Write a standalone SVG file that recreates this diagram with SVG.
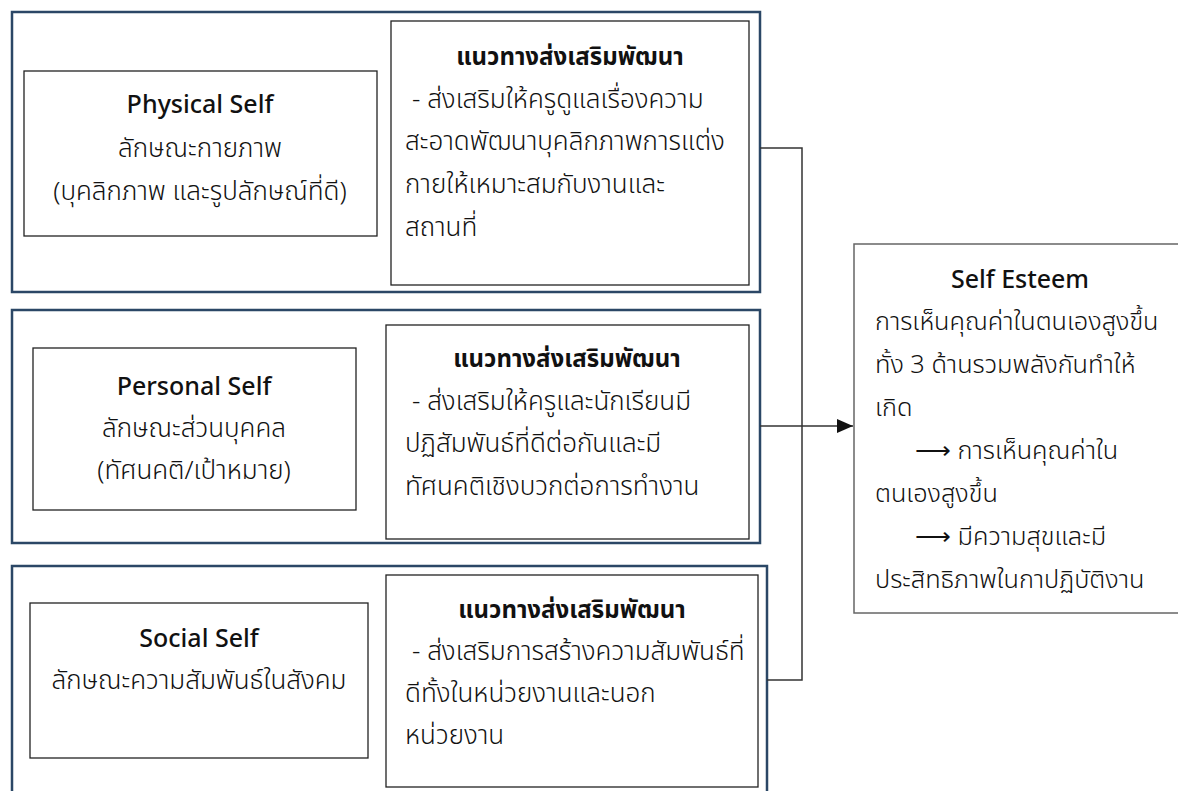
<svg xmlns="http://www.w3.org/2000/svg" width="1178" height="791" viewBox="0 0 1178 791">
<style>
.outer{fill:none;stroke:#2b4766;stroke-width:2.5}
.inner{fill:#fff;stroke:#222;stroke-width:1.3}
.se{fill:#fff;stroke:#666;stroke-width:1.5}
.conn{fill:none;stroke:#333;stroke-width:1.5}
text{font-family:'Leelawadee UI','Noto Sans Thai','Noto Sans','DejaVu Sans',sans-serif;font-size:26px;font-weight:300;fill:#111}
.c{text-anchor:middle}
.t{font-weight:500;font-size:25px}
.b{font-weight:bold;font-size:24px}
.s{font-size:25.3px}
</style>
<defs>
<marker id="ah" markerWidth="16" markerHeight="14" refX="16" refY="7" orient="auto" markerUnits="userSpaceOnUse">
<path d="M0,0 L16,7 L0,14 Z" fill="#111"/>
</marker>
</defs>
<rect width="1178" height="791" fill="#fff"/>
<g id="row1">
<rect class="outer" x="12" y="12" width="748" height="280"/>
<g id="physical">
<rect class="inner" x="24" y="71" width="353" height="165"/>
<text class="c t" x="200" y="113">Physical Self</text>
<text class="c" x="200" y="157">ลักษณะกายภาพ</text>
<text class="c" x="200" y="200">(บุคลิกภาพ และรูปลักษณ์ที่ดี)</text>
</g>
<g id="guide1">
<rect class="inner" x="391" y="21" width="358" height="264"/>
<text class="c b" x="570" y="65">แนวทางส่งเสริมพัฒนา</text>
<text x="412" y="108">- ส่งเสริมให้ครูดูแลเรื่องความ</text>
<text x="405" y="150">สะอาดพัฒนาบุคลิกภาพการแต่ง</text>
<text x="405" y="193">กายให้เหมาะสมกับงานและ</text>
<text x="405" y="236">สถานที่</text>
</g>
</g>
<g id="row2">
<rect class="outer" x="12" y="310" width="748" height="233"/>
<g id="personal">
<rect class="inner" x="33" y="348" width="323" height="162"/>
<text class="c t" x="194" y="395">Personal Self</text>
<text class="c" x="194" y="437">ลักษณะส่วนบุคคล</text>
<text class="c" x="194" y="479">(ทัศนคติ/เป้าหมาย)</text>
</g>
<g id="guide2">
<rect class="inner" x="386" y="325" width="363" height="214"/>
<text class="c b" x="567" y="367">แนวทางส่งเสริมพัฒนา</text>
<text x="412" y="410">- ส่งเสริมให้ครูและนักเรียนมี</text>
<text x="405" y="452">ปฏิสัมพันธ์ที่ดีต่อกันและมี</text>
<text x="405" y="495">ทัศนคติเชิงบวกต่อการทำงาน</text>
</g>
</g>
<g id="row3">
<rect class="outer" x="12" y="566" width="755" height="240"/>
<g id="social">
<rect class="inner" x="30" y="603" width="338" height="155"/>
<text class="c t" x="199" y="647">Social Self</text>
<text class="c" x="199" y="689">ลักษณะความสัมพันธ์ในสังคม</text>
</g>
<g id="guide3">
<rect class="inner" x="386" y="575" width="372" height="212"/>
<text class="c b" x="572" y="618">แนวทางส่งเสริมพัฒนา</text>
<text x="412" y="660">- ส่งเสริมการสร้างความสัมพันธ์ที่</text>
<text x="405" y="702">ดีทั้งในหน่วยงานและนอก</text>
<text x="405" y="744">หน่วยงาน</text>
</g>
</g>
<g id="connectors">
<path class="conn" d="M760,148 H802 V680 H767"/>
<path class="conn" d="M760,426 H853" marker-end="url(#ah)"/>
</g>
<g id="selfesteem">
<rect class="se" x="854" y="244" width="340" height="369"/>
<text class="c t" x="1020" y="288">Self Esteem</text>
<text class="s" x="875" y="330">การเห็นคุณค่าในตนเองสูงขึ้น</text>
<text class="s" x="875" y="373">ทั้ง 3 ด้านรวมพลังกันทำให้</text>
<text class="s" x="875" y="416">เกิด</text>
<text class="s" x="915" y="459">⟶ การเห็นคุณค่าใน</text>
<text class="s" x="875" y="502">ตนเองสูงขึ้น</text>
<text class="s" x="915" y="545">⟶ มีความสุขและมี</text>
<text class="s" x="875" y="588">ประสิทธิภาพในกาปฏิบัติงาน</text>
</g>
</svg>
